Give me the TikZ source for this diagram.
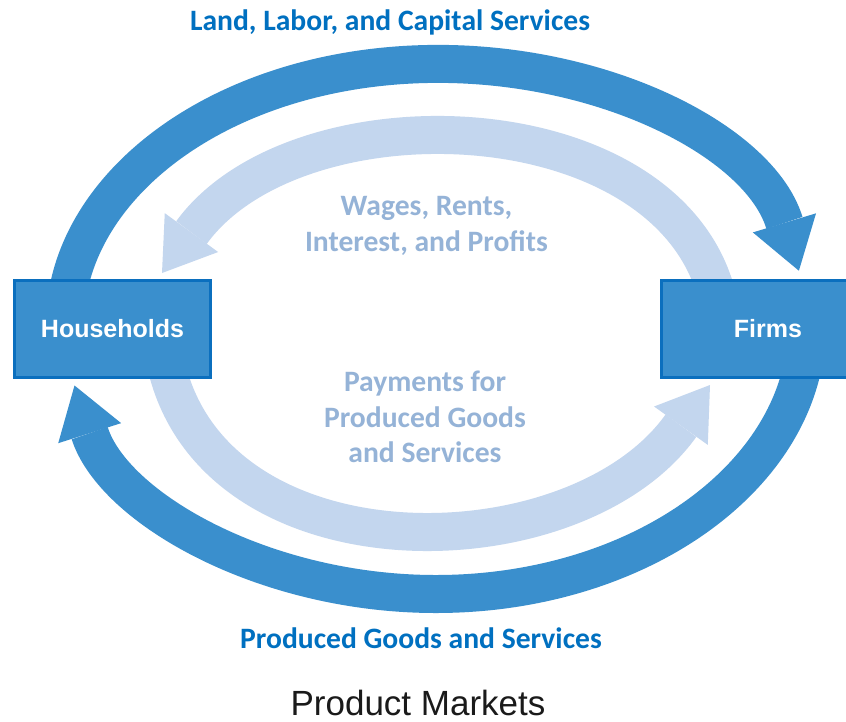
\documentclass[tikz,border=0pt]{standalone}
\usepackage{fontspec}
\setmainfont{Carlito}
\newfontfamily\arialfont{Liberation Sans}
\usetikzlibrary{arrows.meta}

\definecolor{flowdark}{HTML}{3A8FCD}
\definecolor{flowlight}{HTML}{C3D6EE}
\definecolor{labeldark}{HTML}{0070C0}
\definecolor{labellight}{HTML}{95B3D7}
\definecolor{boxedge}{HTML}{0B6FBE}
\definecolor{captiontext}{HTML}{1A1A1A}

\begin{document}
\begin{tikzpicture}[x=1pt, y=-1pt,
  band/.style={line width=38pt, -{Triangle[length=50pt, width=66pt, line width=0pt]}},
  agent/.style={draw=boxedge, line width=3pt, fill=flowdark, text=white,
    minimum height=97pt, inner sep=0pt,
    font=\arialfont\bfseries\fontsize{25}{30}\selectfont},
  flowlabel/.style={font=\bfseries\fontsize{29.6}{35.5}\selectfont, align=center, inner sep=0pt},
  caption/.style={font=\arialfont\fontsize{35}{40}\selectfont, text=captiontext,
    inner sep=0pt, text depth=0pt, anchor=base}
]
\useasboundingbox (0,0) rectangle (846,721);
\fill[white] (0,0) rectangle (846,721);

% centre of the outer ring
\coordinate (ring) at (436,325);

% outer ring: factor services (top) and goods (bottom)
\draw[band, draw=flowdark]
  ([shift={(170:371 and 261)}]ring) arc[start angle=170, end angle=348, x radius=371, y radius=261];
\draw[band, draw=flowdark]
  ([shift={(0:371 and 269)}]ring) arc[start angle=0, end angle=167, x radius=371, y radius=269];

% inner ring: money flows
\coordinate (firmsTop) at (718,300);
\coordinate (hhTop)    at (162,273);
\coordinate (hhBottom) at (161,330);
\coordinate (firmsBottom) at (710,385);
\draw[band, draw=flowlight]
  (firmsTop) .. controls (672,100) and (297.5,87) .. (hhTop);
\draw[band, draw=flowlight]
  (hhBottom) .. controls (178,580) and (570,581) .. (firmsBottom);

% the two sectors
\node[agent, minimum width=196pt] (hh) at (112.5,329) {Households};
\node[agent, minimum width=213pt] (firms) at (768,328.5) {Firms};

% labels
\node[flowlabel, text=labeldark] (factor) at (390,22) {Land, Labor, and Capital Services};
\node[flowlabel, text=labeldark] (goods) at (421,638) {Produced Goods and Services};
\node[flowlabel, text=labellight] (income) at (426.5,226) {Wages, Rents,\\Interest, and Profits};
\node[flowlabel, text=labellight] (spend) at (425,417) {Payments for\\Produced Goods\\and Services};
\node[caption] (market) at (418,715) {Product Markets};
\end{tikzpicture}
\end{document}
